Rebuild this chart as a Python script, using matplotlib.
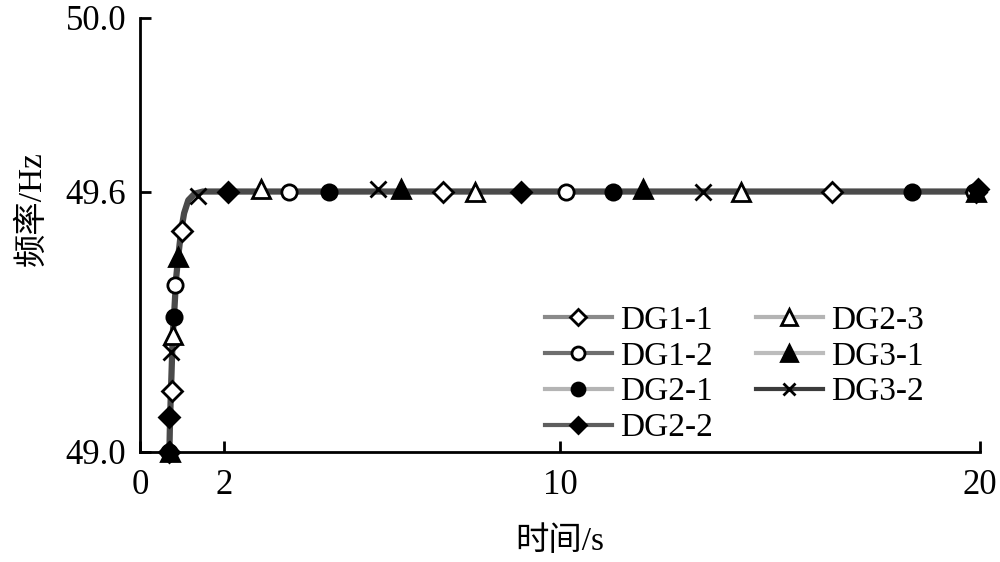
import matplotlib
matplotlib.use('Agg')
import matplotlib.pyplot as plt

plt.rcParams['font.family'] = ['Liberation Serif', 'Noto Sans CJK SC']
plt.rcParams['font.size'] = 24

# shared frequency curve (all units coincide)
curve_t = [0.70, 0.71, 0.73, 0.75, 0.78, 0.82, 0.86, 0.91, 0.98, 1.05,
           1.15, 1.30, 1.50, 2.0, 20.0]
curve_f = [49.00, 49.05, 49.12, 49.18, 49.27, 49.33, 49.40, 49.45, 49.51,
           49.55, 49.58, 49.595, 49.60, 49.60, 49.60]

names = ['DG1-1', 'DG1-2', 'DG2-1', 'DG2-2', 'DG2-3', 'DG3-1', 'DG3-2']
line_colors = ['#8a8a8a', '#6e6e6e', '#b4b4b4', '#5e5e5e', '#b4b4b4',
               '#bcbcbc', '#3c3c3c']

# marker positions per unit
mk_t = {
    'DG1-1': [0.75, 0.99, 7.21, 16.48, 19.9],
    'DG1-2': [0.83, 3.55, 10.14, 19.85],
    'DG2-1': [0.70, 0.82, 4.50, 11.26, 18.38],
    'DG2-2': [0.70, 0.70, 2.10, 9.07, 19.95],
    'DG2-3': [0.78, 2.88, 7.98, 14.30],
    'DG3-1': [0.72, 0.91, 6.21, 11.98, 19.9],
    'DG3-2': [0.74, 1.38, 5.67, 13.40],
}
mk_f = {
    'DG1-1': [49.14, 49.51, 49.60, 49.60, 49.60],
    'DG1-2': [49.385, 49.60, 49.60, 49.60],
    'DG2-1': [49.00, 49.31, 49.60, 49.60, 49.60],
    'DG2-2': [49.00, 49.08, 49.60, 49.60, 49.605],
    'DG2-3': [49.27, 49.605, 49.60, 49.60],
    'DG3-1': [49.00, 49.45, 49.605, 49.605, 49.60],
    'DG3-2': [49.23, 49.59, 49.605, 49.60],
}

styles = {
    'DG1-1': dict(marker='D', mfc='white', ms=10),
    'DG1-2': dict(marker='o', mfc='white', ms=11),
    'DG2-1': dict(marker='o', mfc='black', ms=11),
    'DG2-2': dict(marker='D', mfc='black', ms=10),
    'DG2-3': dict(marker='^', mfc='white', ms=13),
    'DG3-1': dict(marker='^', mfc='black', ms=13),
    'DG3-2': dict(marker='x', mfc='black', ms=11),
}

fig = plt.figure(figsize=(10, 5.62), dpi=100)
ax = fig.add_axes([0.14, 0.196, 0.84, 0.772])

# thick combined curve
ax.plot(curve_t, curve_f, color='#4a4a4a', lw=4.5, zorder=2)

handles = []
for name, col in zip(names, line_colors):
    st = styles[name]
    ax.plot(mk_t[name], mk_f[name], ls='none', marker=st['marker'],
            ms=st['ms'], mfc=st['mfc'], mec='black', mew=2, zorder=3,
            clip_on=False)
    h, = ax.plot([], [], color=col, lw=3, marker=st['marker'],
                 ms=st['ms'] * 0.85, mfc=st['mfc'], mec='black', mew=2)
    handles.append(h)

ax.set_xlim(0, 20)
ax.set_ylim(49.0, 50.0)
ax.set_xticks([0, 2, 10, 20])
ax.set_xticklabels(['0', '2', '10', '20'])
ax.set_yticks([49.0, 49.6, 50.0])
ax.set_yticklabels(['49.0', '49.6', '50.0'])
ax.tick_params(direction='in', length=8, width=2, pad=10, labelsize=25)
ax.tick_params(axis='x', pad=12)
for s in ['top', 'right']:
    ax.spines[s].set_visible(False)
for s in ['left', 'bottom']:
    ax.spines[s].set_linewidth(2)

ax.set_xlabel('时间/s', labelpad=18)
ax.set_ylabel('频率/Hz', labelpad=14)
ax.yaxis.set_label_coords(-0.11, 0.56)

ax.legend(handles, names, ncol=2, frameon=False, loc='upper left',
          bbox_to_anchor=(0.482, 0.338), borderpad=0, borderaxespad=0,
          handlelength=2.0, handletextpad=0.25, columnspacing=1.3,
          labelspacing=0.16, fontsize=24)

fig.savefig('out.png', dpi=100)
